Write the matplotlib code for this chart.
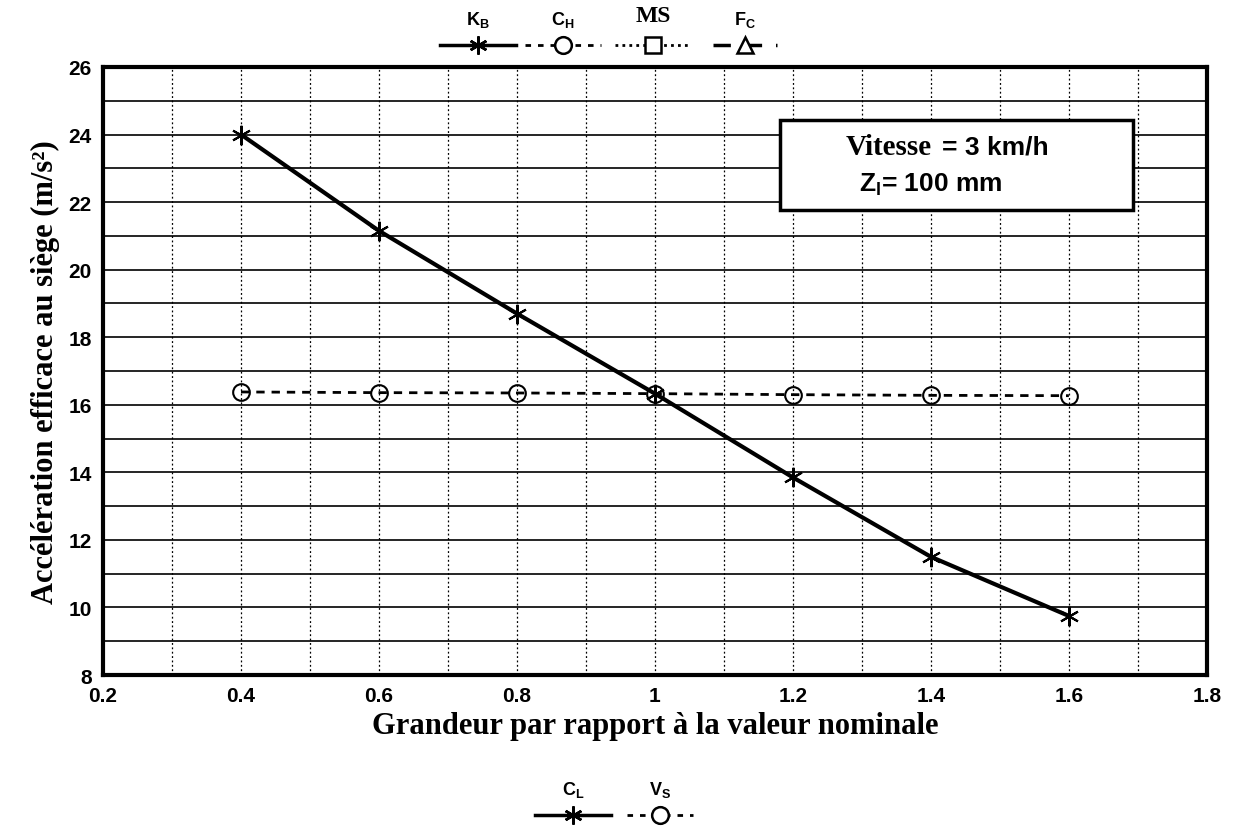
import matplotlib
matplotlib.use("Agg")
from matplotlib import pyplot as plt
from matplotlib.lines import Line2D
from matplotlib.patches import Rectangle

# grandeur relative (x) et accélération efficace (m/s2)
grandeur = [0.4, 0.6, 0.8, 1.0, 1.2, 1.4, 1.6]
acc_kb = [24.0, 21.15, 18.7, 16.33, 13.85, 11.5, 9.75]
acc_ch = [16.38, 16.36, 16.35, 16.33, 16.3, 16.28, 16.27]

x_ticks = [0.2, 0.4, 0.6, 0.8, 1.0, 1.2, 1.4, 1.6, 1.8]
x_tick_labels = ["0.2", "0.4", "0.6", "0.8", "1", "1.2", "1.4", "1.6", "1.8"]
y_ticks = [8, 10, 12, 14, 16, 18, 20, 22, 24, 26]

sans = "Liberation Sans"
serif = "Liberation Serif"
star = (6, 2, 0)

fig = plt.figure(figsize=(12.34, 8.29), dpi=100)
ax = fig.add_axes([0.0835, 0.1845, 0.8945, 0.7335])

ax.plot(grandeur, acc_kb, color="black", lw=3, marker=star, ms=14, mew=1.5, zorder=4)
ax.plot(grandeur, acc_ch, color="black", lw=2, ls=(0, (3, 2.5)), marker="o", ms=12,
        mfc="none", mew=1.5, zorder=4)

ax.set_xlim(0.2, 1.8)
ax.set_ylim(8, 26)
ax.set_xticks(x_ticks)
ax.set_xticklabels(x_tick_labels)
ax.set_yticks(y_ticks)
ax.set_xticks([v / 10 for v in range(3, 18, 2)], minor=True)
ax.set_yticks(range(9, 26, 2), minor=True)
for lab in ax.get_xticklabels() + ax.get_yticklabels():
    lab.set_fontfamily(sans)
    lab.set_fontweight("bold")
    lab.set_fontsize(15)
ax.tick_params(which="both", length=0, pad=8)

ax.grid(True, which="both", axis="y", color="black", lw=1.2, ls="-")
ax.grid(True, which="both", axis="x", color="black", lw=0.9, ls=(0, (1.5, 2)))
ax.set_axisbelow(True)
for s in ax.spines.values():
    s.set_linewidth(3)

ax.set_xlabel("Grandeur par rapport à la valeur nominale", fontfamily=serif,
              fontweight="bold", fontsize=22, labelpad=4)
ax.set_ylabel("Accélération efficace au siège (m/s²)", fontfamily=serif,
              fontweight="bold", fontsize=22, labelpad=6)

# encadré des conditions
ax.add_patch(Rectangle((0.6135, 0.765), 0.32, 0.147, transform=ax.transAxes,
                       fc="white", ec="black", lw=2.5, zorder=5))
ax.text(0.673, 0.87, "Vitesse", transform=ax.transAxes, fontfamily=serif,
        fontweight="bold", fontsize=21, va="center", zorder=6)
ax.text(0.76, 0.87, "= 3 km/h", transform=ax.transAxes, fontfamily=sans,
        fontweight="bold", fontsize=19, va="center", zorder=6)
ax.text(0.685, 0.808, "Z$_\\mathregular{l}$= 100 mm", transform=ax.transAxes,
        fontfamily=sans, fontweight="bold", fontsize=19, va="center", zorder=6)

# légendes au-dessus et au-dessous du graphique
W, H = 1234, 829


def entry(label, xc, y_lab, y_line, half, ls, lw, marker, ms, family=sans, size=13):
    fig.text(xc / W, 1 - y_lab / H, label, ha="center", va="center",
             fontfamily=family, fontweight="bold", fontsize=size)
    fig.add_artist(Line2D([(xc - half) / W, (xc + half) / W],
                          [1 - y_line / H, 1 - y_line / H], color="black",
                          ls=ls, lw=lw))
    fig.add_artist(Line2D([xc / W], [1 - y_line / H], color="black", ls="none",
                          marker=marker, ms=ms, mfc="white", mew=1.8))


solid = "-"
dashed = (0, (2, 2.5))
dotted = (0, (1, 1.5))
longdash = (0, (5, 4))

entry("K$_\\mathregular{B}$", 478, 20, 46, 38, solid, 2.5, star, 13)
entry("C$_\\mathregular{H}$", 563, 20, 46, 38, dashed, 2, "o", 12)
entry("MS", 653, 16, 46, 38, dotted, 2, "s", 11, family=serif, size=17)
entry("F$_\\mathregular{C}$", 745, 20, 46, 32, longdash, 2.5, "^", 12)
entry("C$_\\mathregular{L}$", 573, 790, 816, 38, solid, 2.5, star, 13)
entry("V$_\\mathregular{S}$", 660, 790, 816, 33, dashed, 2, "o", 12)

fig.savefig("out.png", dpi=100)
